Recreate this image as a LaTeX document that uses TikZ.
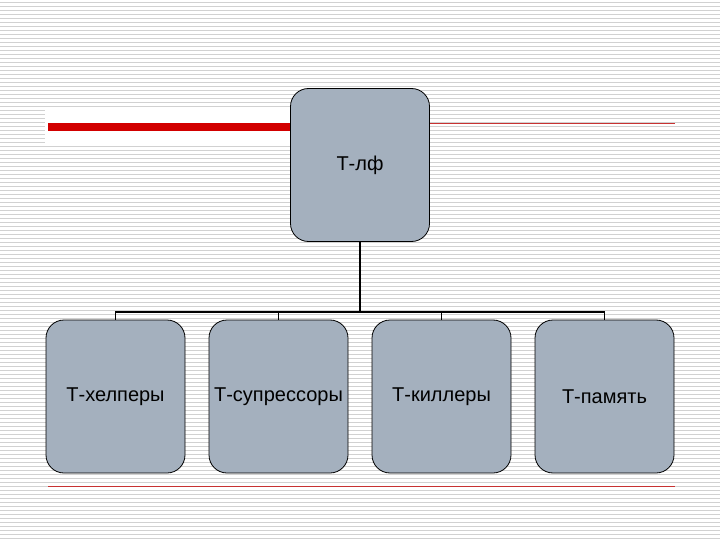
\documentclass[tikz,border=0pt]{standalone}
\usepackage{fontspec}
\setmainfont{Liberation Sans}
\definecolor{boxfill}{RGB}{164,176,190}
\definecolor{redbar}{RGB}{210,0,0}
\definecolor{redline}{RGB}{200,50,50}
\begin{document}
\begin{tikzpicture}[x=1pt,y=-1pt,
  box/.style={draw=black,line width=0.8pt,fill=boxfill,rounded corners=18pt,minimum width=139pt,minimum height=153pt,inner sep=0pt,font=\fontsize{20}{24}\selectfont},
  conn/.style={line width=1.6pt}]
\useasboundingbox (0,0) rectangle (720,540);
\fill[white] (0,0) rectangle (720,540);
\foreach \y in {2,6,...,538} \draw[line width=0.8pt,black!18] (0,\y) -- (720,\y);
\fill[white] (45,110) rectangle (290,145);
\fill[redbar] (48,123) rectangle (290,131);
\draw[line width=0.7pt,redline] (430,123) -- (675,123);
\draw[line width=0.7pt,redline] (48,486) -- (675,486);
\node[box] (top) at (360,165) {Т-лф};
\node[box] (a) at (115.5,396.5) {Т-хелперы};
\node[box] (b) at (278.5,396.5) {Т-супрессоры};
\node[box] (c) at (441.5,396.5) {Т-киллеры};
\node[box] (d) at (604.5,396.5) {Т-память};
\coordinate (j) at (360,312);
\draw[conn] (top.south) -- (j);
\draw[conn] (a.north) |- (j) -| (d.north);
\draw[conn] (b.north) -- (b.north |- j);
\draw[conn] (c.north) -- (c.north |- j);
\end{tikzpicture}
\end{document}
